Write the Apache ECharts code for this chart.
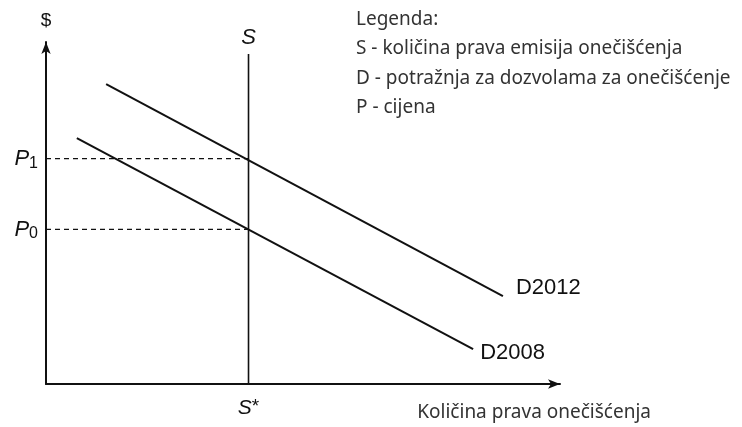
<!DOCTYPE html>
<html>
<head>
<meta charset="utf-8">
<script src="https://cdn.jsdelivr.net/npm/echarts@6/dist/echarts.min.js"></script>
<style>
  html, body { margin: 0; padding: 0; background: #fff; }
  #chart { width: 742px; height: 427px; }
</style>
</head>
<body>
<div id="chart"></div>
<script>
// ponuda i potražnja za dozvolama (shematski prikaz)
const sStar = 39.4            // količina prava S*
const sTop = 96.5             // gornji kraj okomice S
const p1 = 65.9
const p0 = 45.2
const d2012 = [[11.7, 87.7], [88.9, 25.7]]
const d2008 = [[6.0, 71.9], [83.1, 10.2]]
const priceTicks = [p0, p1]
const priceNames = { [p0]: '0', [p1]: '1' }
const legendLines = [
  'Legenda:',
  'S - količina prava emisija onečišćenja',
  'D - potražnja za dozvolama za onečišćenje',
  'P - cijena'
]

const chart = echarts.init(document.getElementById('chart'))

const black = '#111'
const sans = 'Liberation Sans'
const noteFont = 'Noto Sans'

// linija s natpisom na zadnjoj točki (simbol je sitan pa se ne vidi)
function lineWithLabel(name, pts, label, width) {
  return {
    type: 'line',
    name: name,
    symbol: 'circle',
    symbolSize: 0.01,
    silent: true,
    itemStyle: { color: black },
    lineStyle: { color: black, width: width },
    data: pts.map((p, i) => i === pts.length - 1 ? {
      value: p,
      label: Object.assign({ show: true, formatter: name, color: black, fontFamily: sans, fontSize: 21 }, label)
    } : p)
  }
}

const options = {
  animation: false,
  grid: { left: 46, right: 182, top: 42, bottom: 43, outerBoundsMode: 'none' },
  xAxis: {
    type: 'value', min: 0, max: 100,
    splitLine: { show: false },
    axisLine: { lineStyle: { color: black, width: 2 }, symbol: ['none', 'arrow'], symbolSize: [7, 12] },
    axisTick: { show: false },
    axisLabel: {
      customValues: [sStar], margin: 13,
      formatter: () => '{i|S}{a|*}',
      rich: {
        i: { fontFamily: sans, fontStyle: 'italic', fontSize: 21, color: black },
        a: { fontFamily: sans, fontSize: 19, color: black, verticalAlign: 'top', padding: [0, 0, 4, 0] }
      }
    },
    name: 'Količina prava onečišćenja',
    nameLocation: 'end',
    nameGap: 95,
    nameTextStyle: { fontFamily: noteFont, fontSize: 19, color: '#333', align: 'right', verticalAlign: 'top', padding: [19, 4, 0, 0] }
  },
  yAxis: {
    type: 'value', min: 0, max: 100,
    splitLine: { show: false },
    axisLine: { lineStyle: { color: black, width: 2 }, symbol: ['none', 'arrow'], symbolSize: [7, 12] },
    axisTick: { show: false },
    axisLabel: {
      customValues: priceTicks, margin: 8,
      formatter: v => '{i|P}{s|' + priceNames[v] + '}',
      rich: {
        i: { fontFamily: sans, fontStyle: 'italic', fontSize: 22, color: black },
        s: { fontFamily: sans, fontSize: 16, color: black, verticalAlign: 'bottom', padding: [9, 0, 0, 0] }
      }
    },
    name: '$',
    nameLocation: 'end',
    nameGap: 12,
    nameTextStyle: { fontFamily: sans, fontSize: 19, color: black, align: 'center' }
  },
  graphic: legendLines.map((t, i) => ({
    type: 'text', left: 356, top: 10 + i * 29.3,
    style: { text: t, fontFamily: noteFont, fontSize: 19, fill: '#333' }
  })),
  series: [
    lineWithLabel('S', [[sStar, 0], [sStar, sTop]],
      { position: 'top', distance: 5, fontStyle: 'italic', fontSize: 22 }, 1.6),
    {
      type: 'line', symbol: 'none', silent: true,
      lineStyle: { color: black, width: 1.4, type: [5, 4] },
      data: [[0, p1], [sStar, p1]]
    },
    {
      type: 'line', symbol: 'none', silent: true,
      lineStyle: { color: black, width: 1.4, type: [5, 4] },
      data: [[0, p0], [sStar, p0]]
    },
    lineWithLabel('D2012', d2012, { position: 'right', offset: [8, -8], fontSize: 22 }, 2),
    lineWithLabel('D2008', d2008, { position: 'right', offset: [2, 4], fontSize: 22 }, 2)
  ]
}

options && chart.setOption(options)
</script>
</body>
</html>
